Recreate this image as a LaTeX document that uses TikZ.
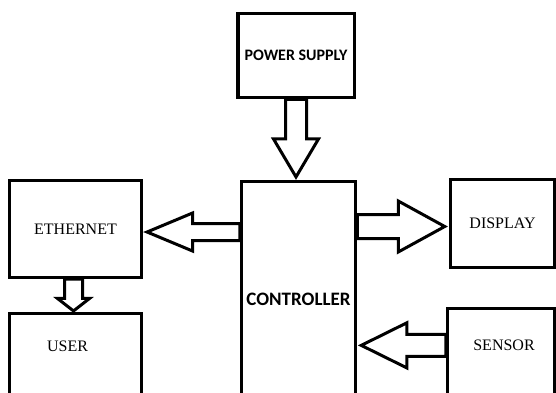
\documentclass[tikz,border=0pt]{standalone}
\usepackage{fontspec}
\setmainfont{Liberation Serif}
\newfontfamily\calfont{Carlito}
\usepackage{tikz}
\usetikzlibrary{calc}

\tikzset{
  blk/.style={draw, line width=3.5pt, inner sep=0pt},
  fat/.style={draw, line width=3pt, line join=miter},
  serif/.style={font=\fontsize{16}{16}\selectfont},
  sans/.style={font=\calfont\bfseries\fontsize{16}{16}\selectfont},
}

% hollow block arrow: from, to, shaft half width, head half width, head length
\newcommand{\fatarrow}[5]{%
  \draw[fat] let \p1=(#1), \p2=(#2), \n1={veclen(\x2-\x1,\y2-\y1)}, \n2={atan2(\y2-\y1,\x2-\x1)} in
    [shift={(\p1)}, rotate=\n2]
    (0pt,#3pt) -- (\n1-#5pt,#3pt) -- (\n1-#5pt,#4pt) -- (\n1,0pt) -- (\n1-#5pt,-#4pt) -- (\n1-#5pt,-#3pt) -- (0pt,-#3pt) -- cycle;}

\begin{document}
\begin{tikzpicture}[x=1pt,y=-1pt]
    \useasboundingbox (0,0) rectangle (556,392);
    \clip (0,0) rectangle (556,392);
    \node[blk, sans, minimum width=116.5pt, minimum height=84pt] (pwr) at (296,55.5) {POWER SUPPLY};
    \node[blk, sans, font=\calfont\bfseries\fontsize{19}{19}\selectfont, minimum width=114pt, minimum height=234.6pt] (ctrl) at (298.5,299) {CONTROLLER};
    \node[blk, serif, minimum width=131.6pt, minimum height=96.6pt] (eth) at (75.5,229) {ETHERNET};
    \node[blk, minimum width=131.6pt, minimum height=106.3pt, label={[serif, xshift=-8pt, yshift=21pt]center:USER}] (user) at (75.5,366.85) {};
    \node[blk, serif, minimum width=104pt, minimum height=87.6pt] (disp) at (502.5,223.5) {DISPLAY};
    \node[blk, minimum width=106.6pt, minimum height=111.3pt, label={[serif, xshift=3pt, yshift=19pt]center:SENSOR}] (sens) at (501,364.35) {};
    % block arrows
    \fatarrow{pwr.south}{$(pwr.south |- ctrl.north)+(0,-3)$}{10.5}{22.5}{38}
    \fatarrow{$(ctrl.west |- eth.east)+(0,3)$}{$(eth.east)+(4,3)$}{8.5}{19}{45.5}
    \fatarrow{$(ctrl.east |- disp.west)+(0,3)$}{$(disp.west)+(-4,3)$}{12}{25.5}{46.5}
    \fatarrow{$(sens.west)+(0,-19)$}{$(ctrl.east |- sens.west)+(4,-19)$}{11}{22.5}{45.5}
    \fatarrow{$(eth.south)+(-2,0)$}{$(eth.south |- user.north)+(-2,-1)$}{9}{16}{12.5}
\end{tikzpicture}
\end{document}
